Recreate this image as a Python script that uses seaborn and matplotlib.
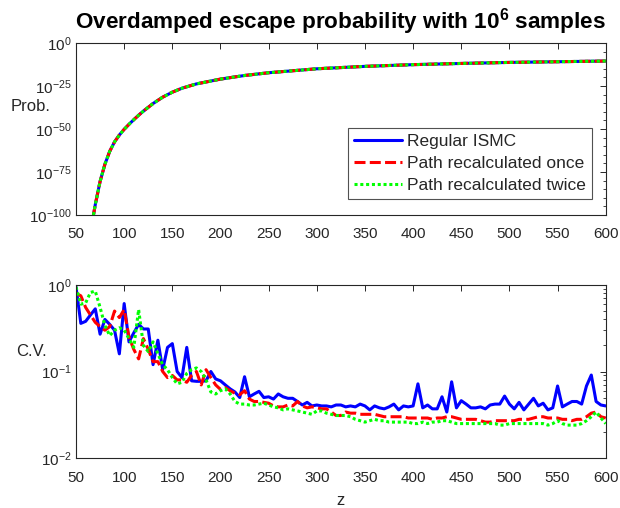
import numpy as np
import pandas as pd
import matplotlib
matplotlib.use("Agg")
import matplotlib.pyplot as plt
import matplotlib.ticker as mticker
import seaborn as sns

# ---------------- data ----------------
z_prob = [65, 68, 70, 75, 80, 85, 90, 95, 100, 105, 110, 115, 120, 130, 140,
          150, 160, 175, 200, 225, 250, 300, 350, 400, 450, 500, 550, 600]
log10_prob = [-110, -100.4, -94, -80.5, -70.5, -63, -57.5, -53.5, -50.2,
              -47.3, -44.6, -42, -39.6, -35.2, -31.5, -28.6, -26.3, -23.8,
              -21.0, -18.9, -17.3, -15.0, -13.6, -12.6, -11.9, -11.3, -10.9,
              -10.5]

z_cv = list(range(50, 605, 5))
cv_regular = [
    0.95, 0.36, 0.38, 0.45, 0.53, 0.27, 0.40, 0.35, 0.30, 0.16,
    0.61, 0.22, 0.28, 0.35, 0.31, 0.31, 0.12, 0.23, 0.105, 0.19,
    0.21, 0.10, 0.085, 0.19, 0.078, 0.077, 0.077, 0.078, 0.10, 0.082,
    0.078, 0.070, 0.063, 0.058, 0.050, 0.087, 0.051, 0.055, 0.059, 0.050,
    0.051, 0.048, 0.055, 0.051, 0.049, 0.049, 0.045, 0.041, 0.044, 0.040,
    0.041, 0.040, 0.040, 0.039, 0.041, 0.041, 0.039, 0.040, 0.039, 0.042,
    0.040, 0.036, 0.040, 0.038, 0.037, 0.039, 0.042, 0.036, 0.040, 0.039,
    0.040, 0.072, 0.038, 0.041, 0.037, 0.037, 0.051, 0.034, 0.076, 0.038,
    0.046, 0.042, 0.038, 0.038, 0.039, 0.037, 0.041, 0.042, 0.042, 0.052,
    0.042, 0.037, 0.044, 0.036, 0.042, 0.049, 0.040, 0.043, 0.036, 0.038,
    0.068, 0.039, 0.042, 0.045, 0.045, 0.042, 0.068, 0.091, 0.045, 0.041,
    0.040]
cv_once = [
    0.80, 0.75, 0.55, 0.45, 0.37, 0.33, 0.30, 0.33, 0.50, 0.42,
    0.52, 0.25, 0.18, 0.14, 0.24, 0.18, 0.13, 0.13, 0.10, 0.085,
    0.09, 0.08, 0.08, 0.075, 0.09, 0.10, 0.07, 0.105, 0.085, 0.07,
    0.062, 0.065, 0.060, 0.056, 0.054, 0.060, 0.048, 0.045, 0.045, 0.044,
    0.043, 0.040, 0.039, 0.039, 0.041, 0.040, 0.045, 0.040, 0.038, 0.039,
    0.038, 0.037, 0.037, 0.034, 0.031, 0.031, 0.034, 0.033, 0.033, 0.032,
    0.032, 0.032, 0.032, 0.031, 0.030, 0.030, 0.030, 0.030, 0.030, 0.029,
    0.029, 0.029, 0.029, 0.029, 0.028, 0.029, 0.029, 0.030, 0.030, 0.029,
    0.028, 0.028, 0.028, 0.028, 0.027, 0.026, 0.026, 0.027, 0.027, 0.027,
    0.027, 0.027, 0.028, 0.028, 0.028, 0.029, 0.030, 0.030, 0.029, 0.029,
    0.029, 0.028, 0.028, 0.027, 0.028, 0.028, 0.030, 0.033, 0.034, 0.030,
    0.029]
cv_twice = [
    0.95, 0.60, 0.62, 0.82, 0.85, 0.55, 0.34, 0.26, 0.30, 0.32,
    0.30, 0.24, 0.19, 0.52, 0.20, 0.17, 0.22, 0.16, 0.12, 0.105,
    0.085, 0.072, 0.075, 0.095, 0.105, 0.11, 0.10, 0.08, 0.058, 0.055,
    0.060, 0.063, 0.055, 0.045, 0.042, 0.042, 0.041, 0.041, 0.042, 0.043,
    0.041, 0.039, 0.038, 0.036, 0.037, 0.036, 0.035, 0.034, 0.033, 0.032,
    0.035, 0.035, 0.033, 0.032, 0.031, 0.031, 0.031, 0.030, 0.028, 0.027,
    0.026, 0.027, 0.028, 0.027, 0.027, 0.026, 0.026, 0.026, 0.026, 0.026,
    0.025, 0.025, 0.026, 0.025, 0.026, 0.026, 0.027, 0.027, 0.026, 0.025,
    0.025, 0.025, 0.025, 0.025, 0.025, 0.025, 0.025, 0.025, 0.024, 0.024,
    0.025, 0.025, 0.025, 0.025, 0.025, 0.025, 0.025, 0.025, 0.024, 0.025,
    0.027, 0.025, 0.024, 0.024, 0.024, 0.025, 0.027, 0.030, 0.034, 0.029,
    0.025]

labels = ["Regular ISMC", "Path recalculated once", "Path recalculated twice"]
x_ticks = list(range(50, 601, 50))
prob_ticks_exp = [-100, -75, -50, -25, 0]
cv_ticks_exp = [-2, -1, 0]

# ---------------- style ----------------
sns.set_theme(style="white")
plt.rcParams["font.family"] = ["Liberation Sans", "DejaVu Sans"]
plt.rcParams["mathtext.fontset"] = "custom"
plt.rcParams["mathtext.rm"] = "Liberation Sans"
plt.rcParams["mathtext.bf"] = "Liberation Sans:bold"
plt.rcParams["mathtext.it"] = "Liberation Sans:italic"

GRAY = "#262626"
colors = ["#0000ff", "#ff0000", "#00ff00"]
styles = ["-", (0, (3.6, 1.4)), (0, (1.0, 0.9))]
LW = 2.2

fig = plt.figure(figsize=(6.2, 5.08), dpi=100)
fig.patch.set_facecolor("white")
ax1 = fig.add_axes([0.1226, 0.5768, 0.977 - 0.1226, 0.9154 - 0.5768])
ax2 = fig.add_axes([0.1226, 0.0984, 0.977 - 0.1226, 0.439 - 0.0984])

prob = [10.0 ** e for e in log10_prob]
df_prob = pd.DataFrame({"z": z_prob, "p": prob})
df_cv = pd.DataFrame({"z": z_cv, labels[0]: cv_regular,
                      labels[1]: cv_once, labels[2]: cv_twice})

for ax in (ax1, ax2):
    ax.set_yscale("log")

for i, lab in enumerate(labels):
    sns.lineplot(data=df_prob, x="z", y="p", ax=ax1, color=colors[i],
                 linestyle=styles[i], linewidth=LW, label=lab)
    sns.lineplot(data=df_cv, x="z", y=lab, ax=ax2, color=colors[i],
                 linestyle=styles[i], linewidth=LW, legend=False)

def fmt_pow(e):
    return r"$\mathdefault{10^{%d}}$" % e

ax1.set_xlim(50, 600)
ax1.set_ylim(1e-100, 1e0)
ax1.set_yticks([10.0 ** e for e in prob_ticks_exp])
ax1.set_yticklabels([fmt_pow(e) for e in prob_ticks_exp])
ax1.yaxis.set_minor_locator(mticker.FixedLocator(
    [10.0 ** e for e in range(-95, 0, 5) if e % 25 != 0]))
ax1.yaxis.set_minor_formatter(mticker.NullFormatter())

ax2.set_xlim(50, 600)
ax2.set_ylim(1e-2, 1e0)
ax2.set_yticks([10.0 ** e for e in cv_ticks_exp])
ax2.set_yticklabels([fmt_pow(e) for e in cv_ticks_exp])
ax2.yaxis.set_minor_locator(mticker.LogLocator(base=10, subs=range(2, 10)))
ax2.yaxis.set_minor_formatter(mticker.NullFormatter())

for ax in (ax1, ax2):
    ax.set_xticks(x_ticks)
    ax.set_xticklabels([str(t) for t in x_ticks])
    ax.tick_params(which="both", direction="in", top=True, right=True,
                   colors=GRAY, labelcolor=GRAY, labelsize=11)
    ax.tick_params(which="major", length=4.5, width=0.7)
    ax.tick_params(which="minor", length=2.5, width=0.6)
    ax.tick_params(axis="x", pad=9)
    ax.tick_params(axis="y", pad=3)
    for s in ax.spines.values():
        s.set_color(GRAY)
        s.set_linewidth(0.8)
    ax.set_facecolor("white")
    ax.grid(False)

ax1.set_xlabel("")
ax1.set_ylabel("Prob.", rotation=0, fontsize=12, color=GRAY,
               ha="center", va="center")
ax1.yaxis.set_label_coords(-0.085, 0.628)
ax2.set_ylabel("C.V.", rotation=0, fontsize=12, color=GRAY,
               ha="center", va="center")
ax2.yaxis.set_label_coords(-0.085, 0.613)
ax2.set_xlabel("z", fontsize=12, color=GRAY, va="center")
ax2.xaxis.set_label_coords(0.5, -0.245)

ax1.set_title(r"Overdamped escape probability with $\mathbf{10^6}$ samples",
              fontsize=16.2, fontweight="bold", color="black", pad=10.5)

leg = ax1.legend(loc="lower right", bbox_to_anchor=(0.974, 0.093),
                 borderaxespad=0, fontsize=12.5, frameon=True, fancybox=False,
                 handlelength=2.75, handletextpad=0.3, labelspacing=0.38,
                 borderpad=0.35)
leg.get_frame().set_edgecolor(GRAY)
leg.get_frame().set_linewidth(0.8)
for t in leg.get_texts():
    t.set_color(GRAY)

fig.savefig("out.png", dpi=100, facecolor="white")
